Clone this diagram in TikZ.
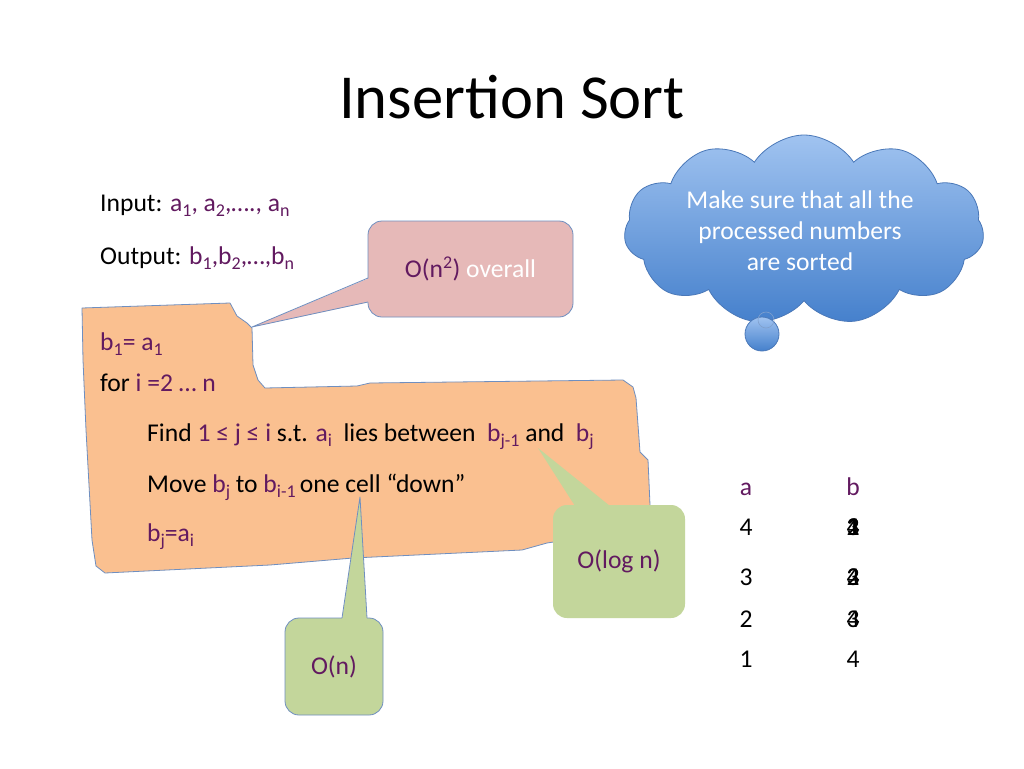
\documentclass[tikz,border=0pt]{standalone}
\usepackage{fontspec}
\setmainfont{Carlito}
\usepackage{xcolor}
\usepackage{tikz}
\usetikzlibrary{calc,shapes.symbols}
\definecolor{ink}{HTML}{000000}
\definecolor{purp}{HTML}{621A60}
\definecolor{peach}{HTML}{FAC090}
\definecolor{rose}{HTML}{E6B9B8}
\definecolor{sage}{HTML}{C3D69B}
\definecolor{edge}{HTML}{6F8FC0}
\definecolor{cloudtop}{HTML}{A0C3F0}
\definecolor{cloudbot}{HTML}{4580CC}
\definecolor{cloudline}{HTML}{4A78B8}
\newcommand\pv[1]{\textcolor{purp}{#1}}
\newcommand\sbs[1]{\raisebox{-5pt}{\fontsize{18}{20}\selectfont #1}}
\tikzset{
  base/.style={draw=edge, line width=0.8pt, line join=round},
  lab/.style={text=ink, font=\fontsize{25.6}{31}\selectfont, anchor=base west, inner sep=0pt},
  num/.style={text=ink, font=\fontsize{25.6}{31}\selectfont, anchor=base, inner sep=0pt},
  callbox/.style={rounded corners=14pt, text=purp, font=\fontsize{25.6}{31}\selectfont, inner sep=0pt},
  puff/.style={draw=cloudline, line width=0.8pt, top color=cloudtop, bottom color=cloudbot}
}
\begin{document}
\begin{tikzpicture}[x=1pt,y=-1pt]
  \useasboundingbox[fill=white] (0,0) rectangle (1024,768);
  \node[text=ink, font=\fontsize{62.6}{70}\selectfont, anchor=base, inner sep=0pt] (title) at (512,118) {Insertion Sort};
  \node[lab] (input) at (100,211) {Input: \pv{a\sbs{1}, a\sbs{2},…., a\sbs{n}}};
  \node[lab] (output) at (100,264) {Output: \pv{b\sbs{1},b\sbs{2},…,b\sbs{n}}};
  \draw[base, fill=peach] (82,308) -- (230,303) -- (237,316) -- (247,323) -- (252,328)
    -- (253,365) -- (258,380) -- (265,388) -- (357,386) -- (370,383) -- (623,380)
    -- (633,387) -- (636,398) -- (640,452) -- (648,460) -- (650,505) -- (651,530)
    -- (560,541) -- (547,543) -- (522,550) -- (353,558) -- (270,565) -- (105,573)
    -- (96,566) -- (92,540) -- (86,430) -- (83,360) -- cycle;
  \node[lab] (bone) at (100,350) {\pv{b\sbs{1}= a\sbs{1}}};
  \node[lab] (loop) at (100,391) {for \pv{i =2 … n}};
  \node[lab] (find) at (147,441) {Find \pv{1 ≤ j ≤ i} s.t. \pv{a\sbs{i}}\ \ lies between\ \ \pv{b\sbs{j-1}} and\ \ \pv{b\sbs{j}}};
  \node[lab] (move) at (147,492) {Move \pv{b\sbs{j}} to \pv{b\sbs{i-1}}\,one cell “down”};
  \node[lab] (assign) at (147,541) {\pv{b\sbs{j}=a\sbs{i}}};
  \node[callbox, fill=rose, draw=edge, line width=0.8pt, minimum width=205pt, minimum height=96pt] (costall) at (470.5,269) {O(n\textsuperscript{2}) \textcolor{white}{overall}};
  \coordinate (costtip) at (252,327);
  \fill[rose] (costtip) -- (369.5,278) -- (369.5,302) -- cycle;
  \draw[base] (368,278) -- (costtip) -- (368,302);
  \node[callbox, fill=sage, minimum width=132pt, minimum height=113pt] (costfind) at (619,561.5) {O(log n)};
  \coordinate (findtip) at (538,448);
  \fill[sage] (findtip) -- (575,506) -- (610,506) -- cycle;
  \node[callbox, fill=sage, draw=edge, line width=0.8pt, minimum width=98pt, minimum height=97pt] (costmove) at (334,666.5) {O(n)};
  \coordinate (movetip) at (360,497);
  \fill[sage] (movetip) -- (342,619.5) -- (367,619.5) -- cycle;
  \draw[base] (342,618) -- (movetip) -- (367,618);
  \node[puff, cloud, cloud puffs=11, cloud puff arc=115, aspect=1.9, minimum width=360pt, minimum height=190pt] (cloud) at (804,230) {};
  \draw[puff] (762,334) circle (17);
  \draw[cloudline!70, line width=0.6pt] (766,320) circle (8);
  \node[text=white, font=\fontsize{25.6}{31}\selectfont, align=center, inner sep=0pt] (cloudtxt) at (800,231) {Make sure that all the\\processed numbers\\are sorted};
  \node[num, text=purp] (acol) at (746,495) {a};
  \node[num, text=purp] (bcol) at (853,495) {b};
  \foreach \v/\y in {4/535,3/585,2/627,1/667}
    \node[num] (a\v) at (746,\y) {\v};
  \foreach \r/\y in {1/535,2/585,3/627,4/667}
    \foreach \d in {\r,...,4}
      \node[num] (b\r\d) at (853,\y) {\d};
\end{tikzpicture}
\end{document}
